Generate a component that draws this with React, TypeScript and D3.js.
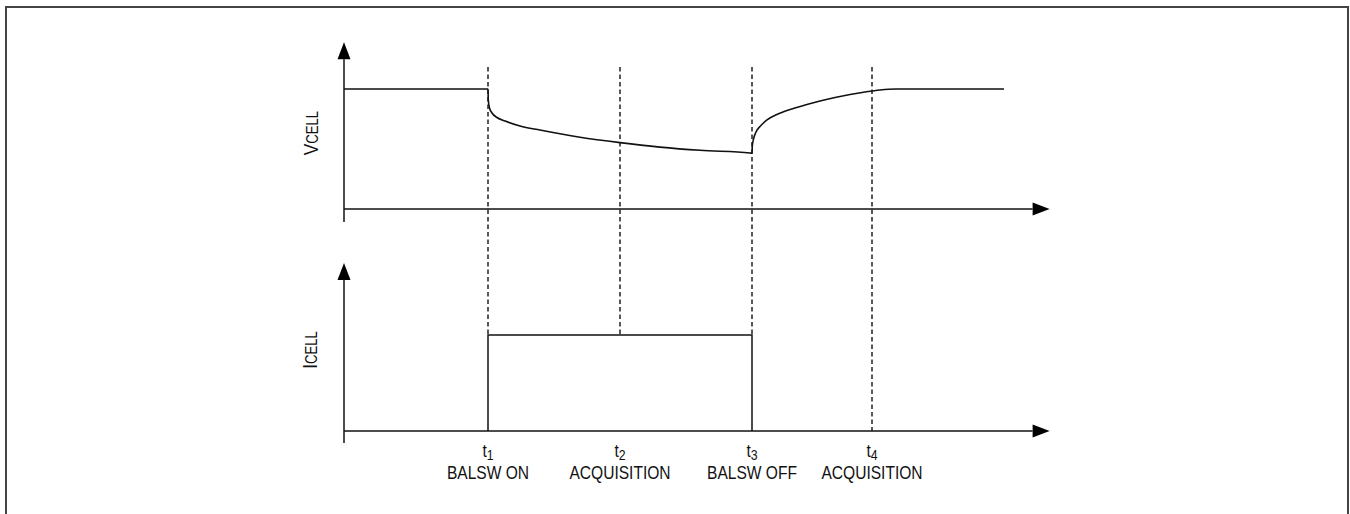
import React from "react";
import * as d3 from "d3";

// ---- data ----
const timeMarks = [12, 23, 34, 44];
const timeNames = ["1", "2", "3", "4"];
const timeLabels = ["BALSW ON", "ACQUISITION", "BALSW OFF", "ACQUISITION"];
const dashEndsInI = [1, 1, 1, 0]; // where each dashed marker stops, in I units

const vTime = [0, 12, 12.025, 12.125, 12.333, 12.75, 13.42, 14.67, 16.33, 19.67, 23, 26.33, 29.67, 33.83, 34,
  34.025, 34.125, 34.333, 34.667, 35.25, 36.08, 37.17, 38.42, 39.67, 40.92, 42.17, 43.42, 44.67, 46, 55];
const vValue = [1, 1, 0.908, 0.842, 0.8, 0.7625, 0.733, 0.692, 0.658, 0.598, 0.553, 0.516, 0.489, 0.467, 0.464,
  0.525, 0.583, 0.642, 0.6875, 0.742, 0.7875, 0.829, 0.8667, 0.9, 0.929, 0.954, 0.975, 0.992, 1, 1];

const iTime = [12, 12, 34, 34];
const iValue = [0, 1, 1, 0];

// ---- layout ----
const W = 1350, H = 514;
const x = d3.scaleLinear().domain([0, 59]).range([344, 1052]);
const yV = d3.scaleLinear().domain([0, 1]).range([209, 89]);
const yI = d3.scaleLinear().domain([0, 1]).range([431, 335]);

const ink = "#111";
const FONT = "'Liberation Sans', Arial, Helvetica, sans-serif";

function Arrow({ x1, y1, x2, y2 }: { x1: number; y1: number; x2: number; y2: number }) {
  const len = 17, hw = 6.5;
  const dx = x2 - x1, dy = y2 - y1;
  const L = Math.hypot(dx, dy);
  const ux = dx / L, uy = dy / L;
  const bx = x2 - ux * len, by = y2 - uy * len;
  const px = -uy, py = ux;
  const pts = [
    [x2, y2],
    [bx + px * hw, by + py * hw],
    [bx - px * hw, by - py * hw],
  ];
  return (
    <g>
      <line x1={x1} y1={y1} x2={bx} y2={by} stroke={ink} strokeWidth={1.5} />
      <polygon points={pts.map((p) => p.join(",")).join(" ")} fill="#000" />
    </g>
  );
}

function AxisLabel({ cx, cy, big, small }: { cx: number; cy: number; big: string; small: string }) {
  return (
    <g transform={`translate(${cx},${cy}) rotate(-90) scale(0.82,1)`}>
      <text textAnchor="middle" fontFamily={FONT} fill={ink}>
        <tspan fontSize={21}>{big}</tspan>
        <tspan fontSize={16}>{small}</tspan>
      </text>
    </g>
  );
}

export default function App() {
  const lineV = d3
    .line<number>()
    .x((_, i) => x(vTime[i]))
    .y((d) => yV(d))
    .curve(d3.curveMonotoneX);
  const lineI = d3
    .line<number>()
    .x((_, i) => x(iTime[i]))
    .y((d) => yI(d));

  const axisTipX = x(58.8);

  return (
    <svg
      width={W}
      height={H}
      style={{ position: "absolute", left: 0, top: 0, background: "#fff" }}
    >
      <rect x={6} y={7} width={1342} height={530} fill="#fff" stroke="#444" strokeWidth={2} />

      {/* dashed markers */}
      {timeMarks.map((t, i) => (
        <line
          key={"d" + i}
          x1={x(t)}
          x2={x(t)}
          y1={yV(1.183)}
          y2={yI(dashEndsInI[i])}
          stroke={ink}
          strokeWidth={1.4}
          strokeDasharray="4.5,3"
        />
      ))}

      {/* V panel axes */}
      <Arrow x1={x(0)} y1={yV(-0.108)} x2={x(0)} y2={yV(1.39)} />
      <Arrow x1={x(0)} y1={yV(0)} x2={axisTipX} y2={yV(0)} />
      {/* I panel axes */}
      <Arrow x1={x(0)} y1={yI(-0.125)} x2={x(0)} y2={yI(1.75)} />
      <Arrow x1={x(0)} y1={yI(0)} x2={axisTipX} y2={yI(0)} />

      {/* series */}
      <path d={lineV(vValue) || ""} fill="none" stroke={ink} strokeWidth={1.6} />
      <path d={lineI(iValue) || ""} fill="none" stroke={ink} strokeWidth={1.5} />

      {/* y labels */}
      <AxisLabel cx={318} cy={133} big="V" small="CELL" />
      <AxisLabel cx={317} cy={350} big="I" small="CELL" />

      {/* time labels */}
      {timeMarks.map((t, i) => (
        <g key={"l" + i} transform={`translate(${x(t)},0) scale(0.82,1)`}>
          <text x={0} y={457} textAnchor="middle" fontFamily={FONT} fill={ink}>
            <tspan fontSize={19}>t</tspan>
            <tspan fontSize={15} dy={3}>{timeNames[i]}</tspan>
          </text>
          <text x={0} y={479} textAnchor="middle" fontFamily={FONT} fontSize={19} fill={ink}>
            {timeLabels[i]}
          </text>
        </g>
      ))}
    </svg>
  );
}
